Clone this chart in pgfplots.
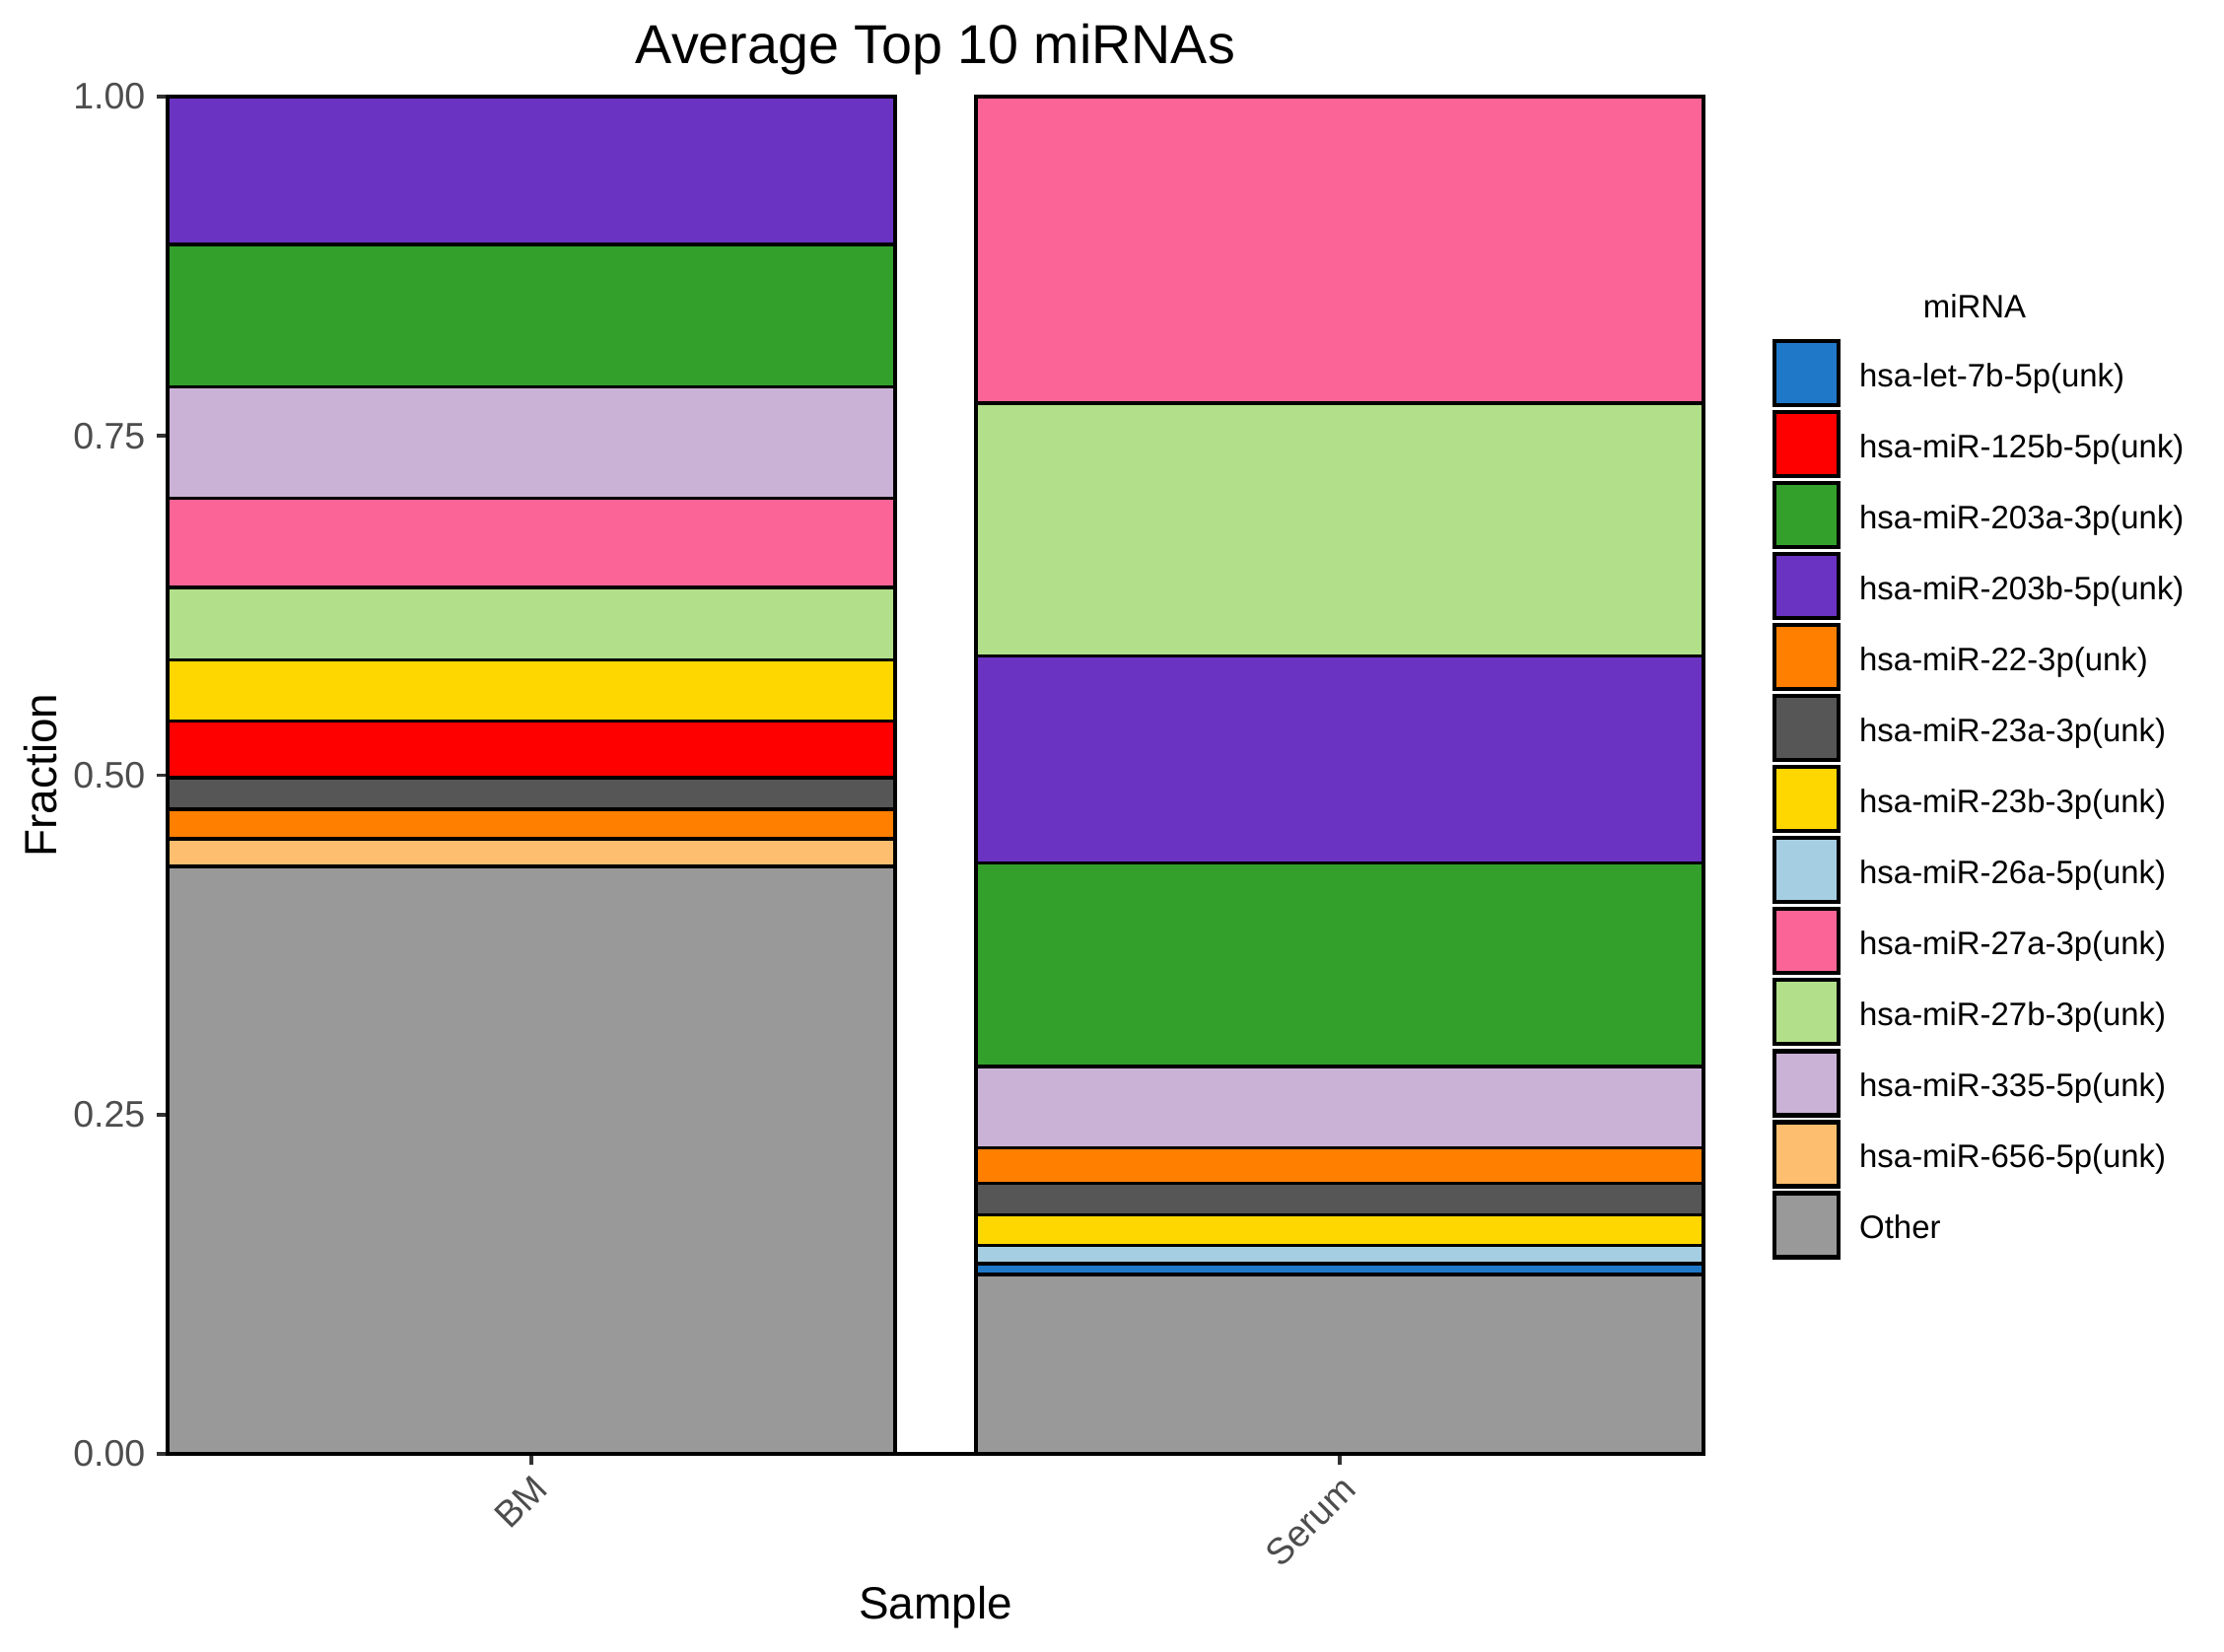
\documentclass[border=0pt]{standalone}
\usepackage{fontspec}
\setmainfont{Liberation Sans}
\usepackage{pgfplots}
\pgfplotsset{compat=1.18}

\definecolor{cLet}{HTML}{1F78C8}
\definecolor{cOneTwoFive}{HTML}{FF0000}
\definecolor{cTwoA}{HTML}{33A02C}
\definecolor{cTwoB}{HTML}{6A33C2}
\definecolor{cTwentyTwo}{HTML}{FF7F00}
\definecolor{cTwThA}{HTML}{565656}
\definecolor{cTwThB}{HTML}{FFD700}
\definecolor{cTwSixA}{HTML}{A6CEE3}
\definecolor{cTwSevA}{HTML}{FB6496}
\definecolor{cTwSevB}{HTML}{B2DF8A}
\definecolor{cThree}{HTML}{CAB2D6}
\definecolor{cSix}{HTML}{FDBF6F}
\definecolor{cOther}{HTML}{999999}
\definecolor{tickgray}{HTML}{4D4D4D}
\definecolor{tickdark}{HTML}{333333}

\begin{document}
\begin{tikzpicture}
\begin{axis}[
  at={(0,0)}, anchor=south west,
  scale only axis, width=373.92bp, height=330.48bp,
  clip=false,
  ybar stacked, bar width=0.9,
  xmin=-0.45, xmax=1.45, ymin=0, ymax=1,
  axis x line*=bottom, axis y line*=left,
  axis line style={-, line width=0.85bp, black},
  xtick={0,1}, xticklabels={BM,Serum},
  ytick={0,0.25,0.5,0.75,1}, yticklabels={0.00,0.25,0.50,0.75,1.00},
  tick align=outside, major tick length=2.64bp,
  tick style={line width=0.85bp, color=tickdark},
  yticklabel style={font=\fontsize{9bp}{10bp}\selectfont, text=tickgray, anchor=east, inner sep=0pt, xshift=-2.6bp},
  xticklabel style={font=\fontsize{9bp}{10bp}\selectfont, text=tickgray, inner sep=0pt, yshift=-1.8bp, rotate=45, anchor=north east},
  title={Average Top 10 miRNAs},
  every axis title shift=0pt,
  title style={font=\fontsize{13.35bp}{15bp}\selectfont, at={(axis description cs:0.5,1.02451)}, anchor=base, inner sep=0pt},
  xlabel={Sample},
  xlabel style={font=\fontsize{11bp}{13bp}\selectfont, at={(axis description cs:0.5,-0.12194)}, anchor=base, inner sep=0pt},
  ylabel={Fraction},
  ylabel style={font=\fontsize{11bp}{13bp}\selectfont, at={(axis description cs:-0.07248,0.5)}, anchor=base, inner sep=0pt},
  every axis plot/.append style={draw=black, line width=0.85bp},
  legend cell align=left,
  legend image code/.code={\draw[#1, draw=black, line width=1.1bp] (0bp,-7.8bp) rectangle (15.6bp,7.8bp);},
  legend style={at={(axis description cs:1.0443,0.8232)}, anchor=north west,
    draw=none, fill=none, inner sep=0pt, row sep=0pt, /tikz/column sep=4.5bp,
    font=\fontsize{7.9bp}{9bp}\selectfont,
    nodes={inner sep=0pt, text height=7.6bp, text depth=0.8bp, minimum height=17.29bp}},
]
% BM stack, bottom to top (Serum value 0)
\addplot[fill=cOther, forget plot] coordinates {(0,0.433) (1,0)};
\addplot[fill=cSix, forget plot] coordinates {(0,0.020) (1,0)};
\addplot[fill=cTwentyTwo, forget plot] coordinates {(0,0.022) (1,0)};
\addplot[fill=cTwThA, forget plot] coordinates {(0,0.023) (1,0)};
\addplot[fill=cOneTwoFive, forget plot] coordinates {(0,0.042) (1,0)};
\addplot[fill=cTwThB, forget plot] coordinates {(0,0.045) (1,0)};
\addplot[fill=cTwSevB, forget plot] coordinates {(0,0.0535) (1,0)};
\addplot[fill=cTwSevA, forget plot] coordinates {(0,0.0655) (1,0)};
\addplot[fill=cThree, forget plot] coordinates {(0,0.082) (1,0)};
\addplot[fill=cTwoA, forget plot] coordinates {(0,0.105) (1,0)};
\addplot[fill=cTwoB, forget plot] coordinates {(0,0.109) (1,0)};
% Serum stack, bottom to top (BM value 0)
\addplot[fill=cOther, forget plot] coordinates {(0,0) (1,0.132)};
\addplot[fill=cLet, forget plot] coordinates {(0,0) (1,0.008)};
\addplot[fill=cTwSixA, forget plot] coordinates {(0,0) (1,0.0135)};
\addplot[fill=cTwThB, forget plot] coordinates {(0,0) (1,0.0225)};
\addplot[fill=cTwThA, forget plot] coordinates {(0,0) (1,0.0234)};
\addplot[fill=cTwentyTwo, forget plot] coordinates {(0,0) (1,0.026)};
\addplot[fill=cThree, forget plot] coordinates {(0,0) (1,0.060)};
\addplot[fill=cTwoA, forget plot] coordinates {(0,0) (1,0.150)};
\addplot[fill=cTwoB, forget plot] coordinates {(0,0) (1,0.1524)};
\addplot[fill=cTwSevB, forget plot] coordinates {(0,0) (1,0.1865)};
\addplot[fill=cTwSevA, forget plot] coordinates {(0,0) (1,0.2257)};

\addlegendimage{fill=cLet}\addlegendentry{hsa-let-7b-5p(unk)}
\addlegendimage{fill=cOneTwoFive}\addlegendentry{hsa-miR-125b-5p(unk)}
\addlegendimage{fill=cTwoA}\addlegendentry{hsa-miR-203a-3p(unk)}
\addlegendimage{fill=cTwoB}\addlegendentry{hsa-miR-203b-5p(unk)}
\addlegendimage{fill=cTwentyTwo}\addlegendentry{hsa-miR-22-3p(unk)}
\addlegendimage{fill=cTwThA}\addlegendentry{hsa-miR-23a-3p(unk)}
\addlegendimage{fill=cTwThB}\addlegendentry{hsa-miR-23b-3p(unk)}
\addlegendimage{fill=cTwSixA}\addlegendentry{hsa-miR-26a-5p(unk)}
\addlegendimage{fill=cTwSevA}\addlegendentry{hsa-miR-27a-3p(unk)}
\addlegendimage{fill=cTwSevB}\addlegendentry{hsa-miR-27b-3p(unk)}
\addlegendimage{fill=cThree}\addlegendentry{hsa-miR-335-5p(unk)}
\addlegendimage{fill=cSix}\addlegendentry{hsa-miR-656-5p(unk)}
\addlegendimage{fill=cOther}\addlegendentry{Other}

\node[anchor=base, inner sep=0pt, font=\fontsize{7.9bp}{9bp}\selectfont] at (axis description cs:1.1765,0.8367) {miRNA};
\end{axis}
\pgfresetboundingbox
\path[use as bounding box] (-40.8bp,-48bp) rectangle (500.64bp,354bp);
\end{tikzpicture}
\end{document}
